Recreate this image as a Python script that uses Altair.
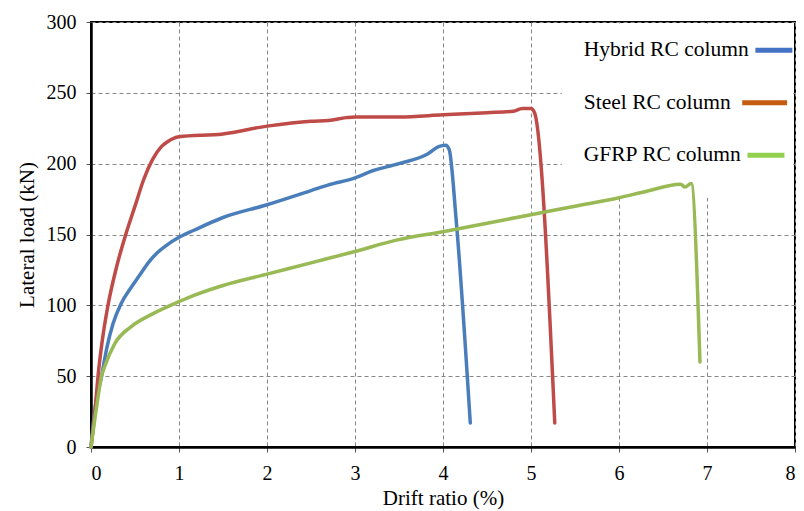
import altair as alt
import pandas as pd

# ---- data ----
hybrid_x = [0, 0.04, 0.12, 0.18, 0.25, 0.34, 0.45, 0.55, 0.65, 0.75, 0.85, 1.0, 1.17, 1.5, 2.0, 2.5, 2.7, 3.0, 3.2, 3.5, 3.83, 3.95, 4.03, 4.07, 4.15, 4.31]
hybrid_y = [0, 25, 50, 70, 87, 101, 112, 121, 130, 137, 142, 148, 153, 162, 171, 181, 185, 190, 195, 200, 207, 212, 213, 210, 160, 17]

steel_x = [0, 0.045, 0.08, 0.13, 0.19, 0.29, 0.4, 0.5, 0.6, 0.7, 0.8, 0.87, 1.0, 1.5, 2.0, 2.5, 2.7, 2.9, 3.0, 3.5, 4.0, 4.5, 4.8, 4.9, 5.0, 5.04, 5.27]
steel_y = [0, 25, 50, 76, 99, 127, 151, 170, 189, 203, 212, 215.5, 219, 221, 226.5, 230, 230.5, 232.5, 233, 233, 234.5, 236, 237, 239, 239, 236, 17]

gfrp_x = [0, 0.064, 0.12, 0.157, 0.27, 0.457, 0.7, 1.0, 1.17, 1.5, 2.0, 2.5, 3.0, 3.47, 4.0, 5.0, 5.5, 6.0, 6.28, 6.7, 6.75, 6.82, 6.92]
gfrp_y = [0, 28.5, 50, 57, 73, 85, 94, 102.6, 107, 114, 122, 130, 138, 146, 152, 164, 170, 176, 180, 185.5, 183.5, 186, 60]

series_names = ["Hybrid RC column", "Steel RC column", "GFRP RC column"]
line_colors = ["#4A7EBB", "#BE4B48", "#98B954"]
swatch_colors = ["#4472C4", "#C55A11", "#92D050"]

# legend placement (data coordinates)
legend_text_x = [5.6, 5.6, 5.6]
legend_y = [280, 243, 206]
legend_sw_x1 = [7.55, 7.40, 7.46]
legend_sw_x2 = [7.97, 7.91, 7.88]

x_ticks = [0, 1, 2, 3, 4, 5, 6, 7, 8]
y_ticks = [0, 50, 100, 150, 200, 250, 300]

rows = []
for name, xs, ys in zip(series_names, [hybrid_x, steel_x, gfrp_x], [hybrid_y, steel_y, gfrp_y]):
    for i, (a, b) in enumerate(zip(xs, ys)):
        rows.append({"series": name, "x": a, "y": b, "i": i})
df = pd.DataFrame(rows)

leg = pd.DataFrame({
    "series": series_names,
    "tx": legend_text_x,
    "y": legend_y,
    "x1": legend_sw_x1,
    "x2": legend_sw_x2,
    "color": swatch_colors,
})

box = pd.DataFrame({"x1": [5.35], "x2": [7.98], "y1": [176], "y2": [299]})

FONT = "Liberation Serif"

xscale = alt.Scale(domain=[0, 8], nice=False)
yscale = alt.Scale(domain=[0, 300], nice=False)

xaxis = alt.Axis(values=x_ticks, format="d", title="Drift ratio (%)", grid=True, labelPadding=11, titlePadding=4)
yaxis = alt.Axis(values=y_ticks, format="d", title="Lateral load (kN)", grid=True, labelPadding=10, titlePadding=9)

bg = alt.Chart(box).mark_rect(color="white").encode(
    x=alt.X("x1:Q", scale=xscale, axis=xaxis),
    x2="x2:Q",
    y=alt.Y("y1:Q", scale=yscale, axis=yaxis),
    y2="y2:Q",
)

lines = alt.Chart(df).mark_line(strokeWidth=3.5, interpolate="monotone", strokeCap="round", strokeJoin="round").encode(
    x=alt.X("x:Q", scale=xscale, axis=xaxis),
    y=alt.Y("y:Q", scale=yscale, axis=yaxis),
    color=alt.Color("series:N", scale=alt.Scale(domain=series_names, range=line_colors), legend=None),
    order="i:Q",
    detail="series:N",
)

leg_text = alt.Chart(leg).mark_text(align="left", baseline="middle", font=FONT, fontSize=21.5, color="black").encode(
    x=alt.X("tx:Q", scale=xscale),
    y=alt.Y("y:Q", scale=yscale),
    text="series:N",
)

leg_sw = alt.Chart(leg).mark_rule(strokeWidth=5).encode(
    x=alt.X("x1:Q", scale=xscale),
    x2="x2:Q",
    y=alt.Y("y:Q", scale=yscale),
    color=alt.Color("color:N", scale=None),
)

chart = alt.layer(bg, lines, leg_text, leg_sw).properties(
    width=704,
    height=425,
    autosize=alt.AutoSizeParams(type="none"),
    padding={"left": 83, "top": 14, "right": 1, "bottom": 63},
).configure_view(
    stroke="black", strokeWidth=2
).configure_axis(
    labelFont=FONT, titleFont=FONT, labelFontSize=20, titleFontSize=21,
    titleFontWeight="normal", labelColor="black", titleColor="black",
    domainColor="black", domainWidth=2.5, tickColor="#555", tickSize=5, tickWidth=1,
    gridColor="#888", gridDash=[4, 3], gridWidth=1,
)

chart.save("out.html", embed_options={"renderer": "svg", "actions": False})
